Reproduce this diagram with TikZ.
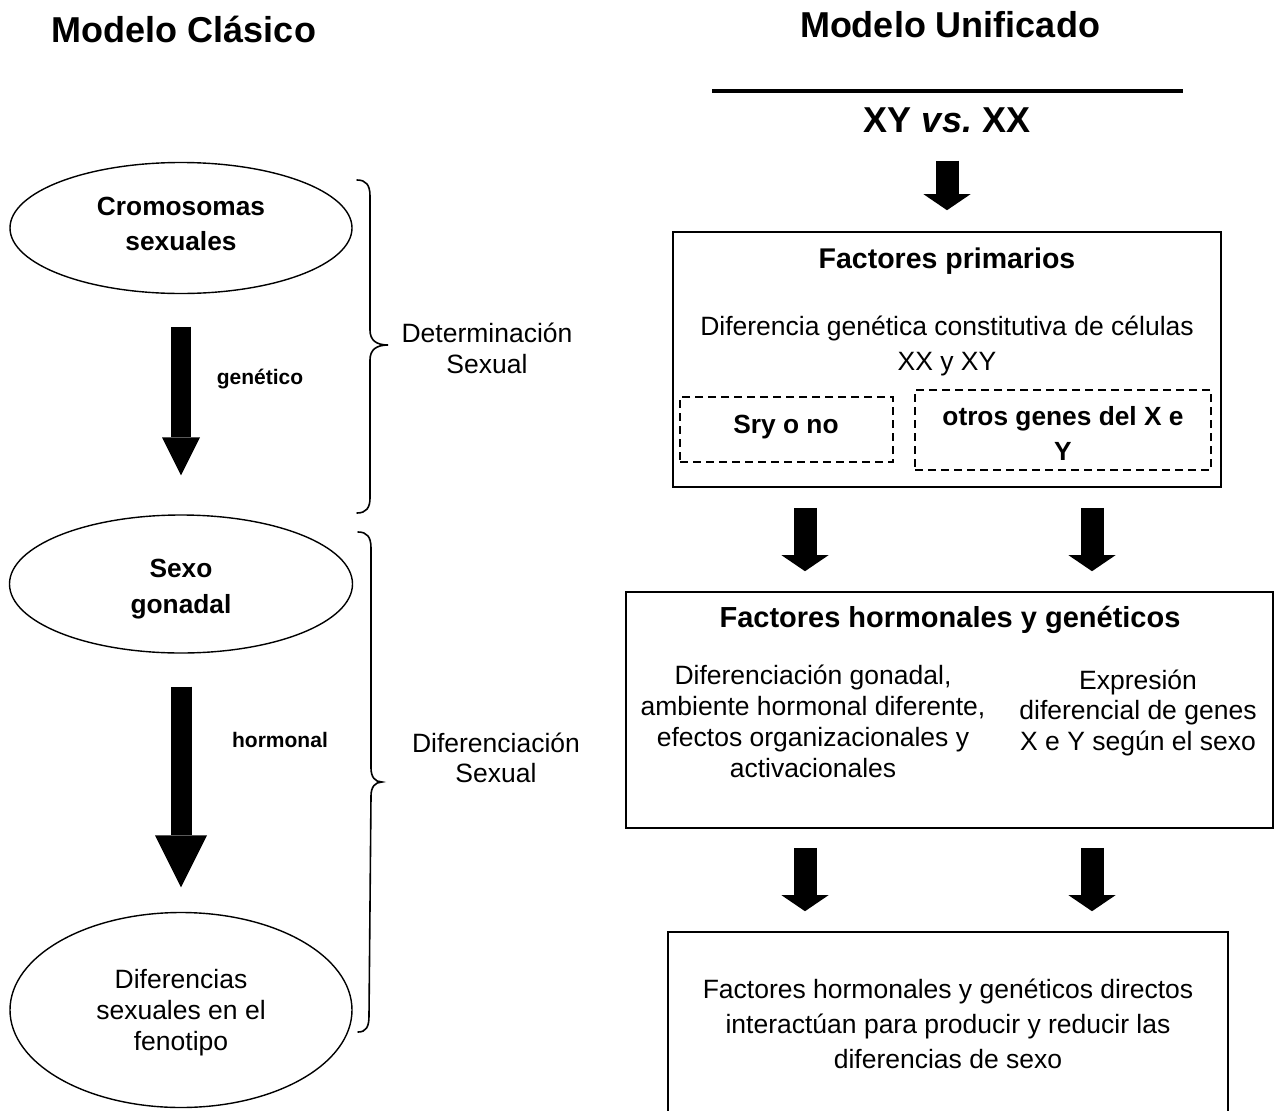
\documentclass[tikz,border=0pt]{standalone}
\usepackage{fontspec}
\setmainfont{Liberation Sans}
\usetikzlibrary{arrows.meta,shapes.geometric}
\frenchspacing

\newcommand{\rgfont}[1]{\fontsize{26.5}{#1}\selectfont}
\newcommand{\bdfont}[2]{\fontsize{#1}{#2}\selectfont\bfseries}

\tikzset{
  oval/.style={draw, line width=1.4pt, ellipse, inner sep=0pt},
  frame/.style={draw, line width=1.6pt, rectangle, inner sep=0pt},
  dashframe/.style={draw, line width=1.8pt, rectangle, inner sep=0pt, dash pattern=on 8pt off 5pt},
  % multi-line texts are placed by the baseline of their last line
  txt/.style={inner sep=0pt, anchor=base, align=center},
  brace/.style={draw, line width=1.6pt, line cap=round},
  leftarrow/.style 2 args={line width=#1, -{Triangle[width=#2, length=#2, line width=0pt]}},
  rightarrow/.style={line width=23pt, -{Triangle[width=47pt, length=16pt, line width=0pt]}},
}

\begin{document}
\begin{tikzpicture}[x=1pt, y=-1pt]
\useasboundingbox (0,0) rectangle (1280,1111);

% ---------- left column: classic model ----------
\node[txt] (titleL) at (184,42) {\bdfont{36}{40}Modelo Clásico};

\node[oval, minimum width=342pt, minimum height=131pt] (c1) at (181,228) {};
\node[oval, minimum width=343pt, minimum height=138pt] (c2) at (181,584) {};
\node[oval, minimum width=342pt, minimum height=195pt] (c3) at (181,1010) {};

\node[txt, font=\bdfont{26.3}{35}] (c1t) at (181,250) {Cromosomas\\sexuales};
\node[txt, font=\bdfont{26.3}{36}] (c2t) at (181,613) {Sexo\\gonadal};
\node[txt, font=\rgfont{31}] (c3t) at (181,1050) {Diferencias\\sexuales en el\\fenotipo};

\draw[leftarrow={19.5pt}{38pt}, shorten <=32.5pt, shorten >=39pt] (c1.south) -- (c2.north);
\draw[leftarrow={21pt}{52pt}, shorten <=33pt, shorten >=24.5pt] (c2.south) -- (c3.north);

\node[txt] (lab1) at (260,384) {\bdfont{21}{24}genético};
\node[txt] (lab2) at (280,747) {\bdfont{21}{24}hormonal};

% curly braces
\draw[brace] (357,180) .. controls (366,180) and (370,185) .. (370,196)
  -- (370,330) .. controls (370,340) and (376,345) .. (388,345)
  .. controls (376,345) and (370,350) .. (370,360)
  -- (370,498) .. controls (370,508) and (366,513) .. (357,513);
\draw[brace] (358,532) .. controls (367,532) and (371,537) .. (371,548)
  -- (371,768) .. controls (371,777) and (375,782) .. (382,782)
  .. controls (375,782) and (371,787) .. (371,796)
  -- (369,1016) .. controls (369,1027) and (366,1032) .. (358,1032);

\node[txt, font=\rgfont{31}] (br1) at (487,373) {Determinación\\Sexual};
\node[txt, font=\rgfont{29.5}] (br2) at (496,782) {Diferenciación\\Sexual};

% ---------- right column: unified model ----------
\node[txt] (titleR) at (950,37) {\bdfont{36}{40}Modelo Unificado};
\draw[line width=4pt] (712,91) -- (1183,91);
\node[txt] (xy) at (947,132) {\bdfont{36}{40}XY \textit{vs.} XX};

\node[frame, minimum width=548pt, minimum height=255pt] (b1) at (947,359.5) {};
\node[txt] (b1h) at (947,268) {\bdfont{28.5}{32}Factores primarios};
\node[txt, font=\rgfont{35}] (b1t) at (947,370) {Diferencia genética constitutiva de células\\XX y XY};
\node[dashframe, minimum width=213pt, minimum height=65pt] (da) at (786.5,429.5) {};
\node[dashframe, minimum width=296pt, minimum height=80pt] (db) at (1063,430) {};
\node[txt] (dat) at (786,433) {\bdfont{26.3}{30}Sry o no};
\node[txt, font=\bdfont{26.3}{35}] (dbt) at (1063,460) {otros genes del X e\\Y};

\node[frame, minimum width=647pt, minimum height=236pt] (b2) at (949.5,710) {};
\node[txt] (b2h) at (950,627) {\bdfont{29}{32}Factores hormonales y genéticos};
\node[txt, font=\rgfont{30.7}] (b2l) at (813,777) {Diferenciación gonadal,\\ambiente hormonal diferente,\\efectos organizacionales y\\activacionales};
\node[txt, font=\rgfont{30.5}] (b2r) at (1138,750) {Expresión\\diferencial de genes\\X e Y según el sexo};

\node[frame, minimum width=560pt, minimum height=186pt] (b3) at (948,1025) {};
\node[txt, font=\rgfont{35}] (b3t) at (948,1068) {Factores hormonales y genéticos directos\\interactúan para producir y reducir las\\diferencias de sexo};

% block arrows between the stages
\coordinate (colL) at (805,0);
\coordinate (colR) at (1092,0);
\draw[rightarrow, shorten <=28pt, shorten >=21pt] (xy.south) -- (b1.north);
\draw[rightarrow, shorten <=20pt, shorten >=20pt] (b1.south -| colL) -- (b2.north -| colL);
\draw[rightarrow, shorten <=20pt, shorten >=20pt] (b1.south -| colR) -- (b2.north -| colR);
\draw[rightarrow, shorten <=19pt, shorten >=20pt] (b2.south -| colL) -- (b3.north -| colL);
\draw[rightarrow, shorten <=19pt, shorten >=20pt] (b2.south -| colR) -- (b3.north -| colR);
\end{tikzpicture}
\end{document}
